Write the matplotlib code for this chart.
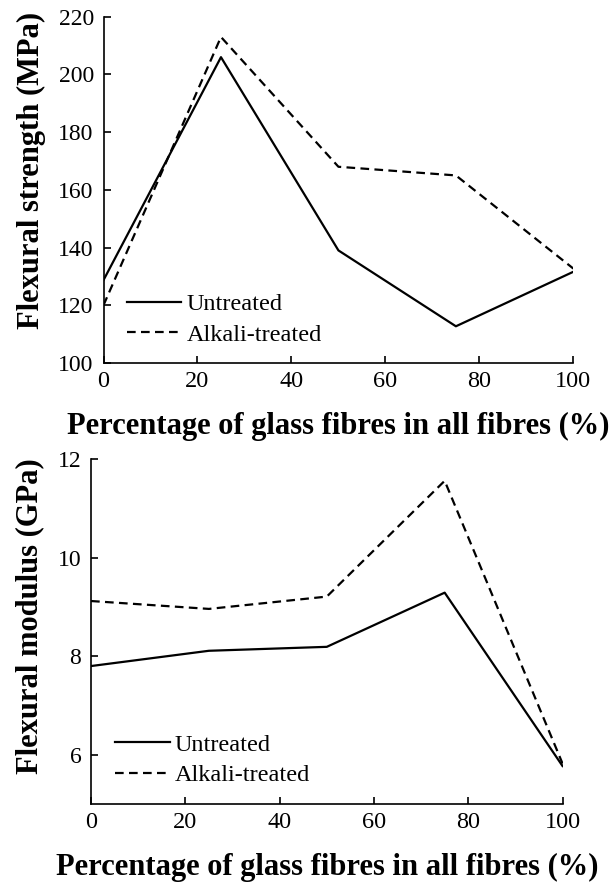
import numpy as np
import matplotlib.pyplot as plt

plt.rcParams['font.family'] = ['Liberation Serif', 'DejaVu Serif']

glass_pct = [0, 25, 50, 75, 100]

strength_untreated = [128.7, 206, 139, 112.7, 131.6]
strength_alkali = [120, 213, 168, 165, 132.7]

modulus_untreated = [7.8, 8.11, 8.19, 9.29, 5.77]
modulus_alkali = [9.12, 8.96, 9.21, 11.56, 5.82]

xlabel = 'Percentage of glass fibres in all fibres (%)'
legend_names = ['Untreated', 'Alkali-treated']

fig = plt.figure(figsize=(6.11, 8.83), dpi=100)
ax1 = fig.add_axes([0.1694, 0.589, 0.769, 0.392])
ax2 = fig.add_axes([0.149, 0.0895, 0.7717, 0.3905])

dash = (0, (3.9, 2.4))


def style(ax, xsize, ysize):
    for s in ['top', 'right']:
        ax.spines[s].set_visible(False)
    for s in ['left', 'bottom']:
        ax.spines[s].set_linewidth(1.2)
    ax.tick_params(direction='in', length=5, width=1.2)
    ax.tick_params(axis='x', labelsize=xsize, pad=6)
    ax.tick_params(axis='y', labelsize=ysize, pad=7)
    ax.set_xlim(0, 100)
    ax.set_xticks([0, 20, 40, 60, 80, 100])


ax1.plot(glass_pct, strength_untreated, color='black', lw=1.6, label=legend_names[0])
ax1.plot(glass_pct, strength_alkali, color='black', lw=1.6, linestyle=dash, label=legend_names[1])
style(ax1, 17.5, 17)
ax1.set_ylim(100, 220)
ax1.set_yticks(np.arange(100, 221, 20))
ax1.set_ylabel('Flexural strength (MPa)', fontsize=22, fontweight='bold')
ax1.yaxis.set_label_coords(-0.123, 0.555)
ax1.set_xlabel(xlabel, fontsize=22, fontweight='bold')
ax1.xaxis.set_label_coords(0.5, -0.142)
ax1.legend(loc='upper left', bbox_to_anchor=(0.049, 0.202), borderaxespad=0, borderpad=0,
           frameon=False, fontsize=17.5, handlelength=2.26, handletextpad=0.2, labelspacing=0.35)

ax2.plot(glass_pct, modulus_untreated, color='black', lw=1.6, label=legend_names[0])
ax2.plot(glass_pct, modulus_alkali, color='black', lw=1.6, linestyle=dash, label=legend_names[1])
style(ax2, 17.5, 17)
ax2.set_ylim(5, 12)
ax2.set_yticks([6, 8, 10, 12])
ax2.set_ylabel('Flexural modulus (GPa)', fontsize=22, fontweight='bold')
ax2.yaxis.set_label_coords(-0.1, 0.545)
ax2.set_xlabel(xlabel, fontsize=22, fontweight='bold')
ax2.xaxis.set_label_coords(0.5, -0.142)
ax2.legend(loc='upper left', bbox_to_anchor=(0.05, 0.204), borderaxespad=0, borderpad=0,
           frameon=False, fontsize=17.5, handlelength=2.26, handletextpad=0.2, labelspacing=0.35)

fig.savefig('out.png', dpi=100)
